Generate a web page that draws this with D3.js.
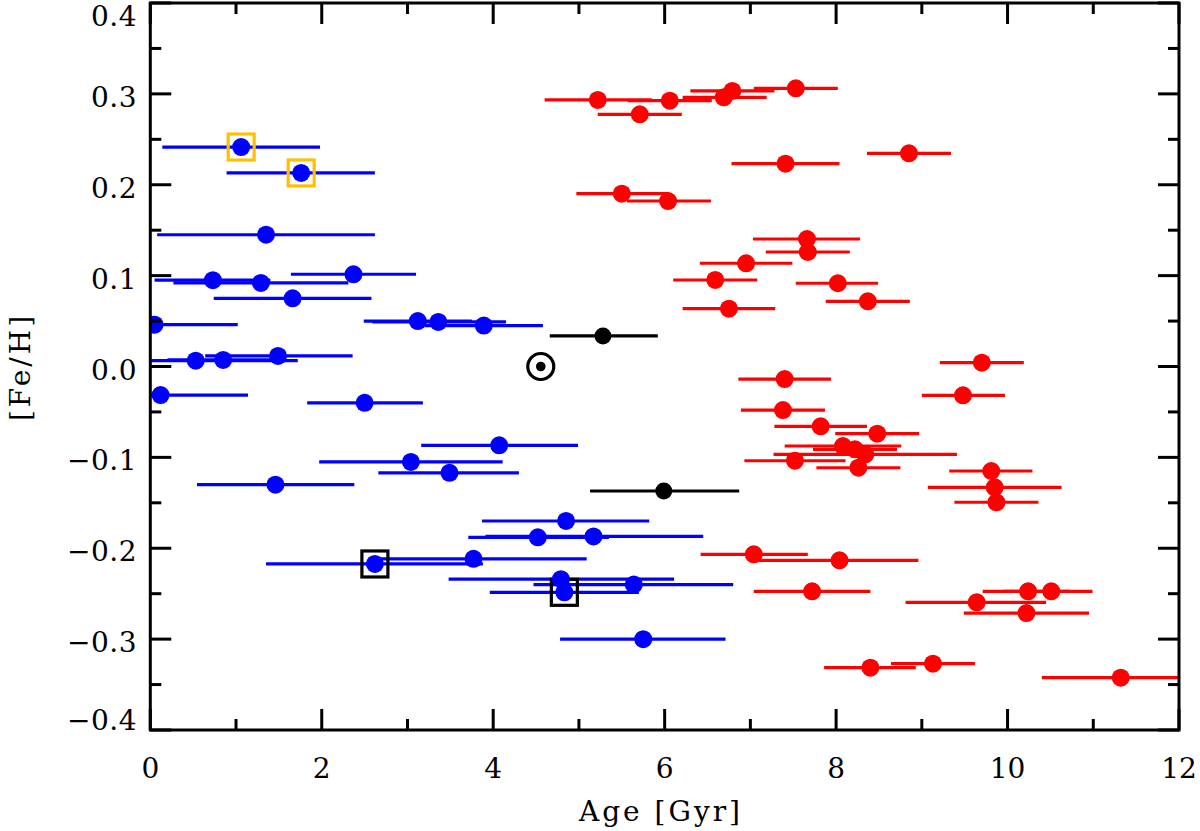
<!DOCTYPE html>
<html>
<head>
<meta charset="utf-8">
<script src="https://cdn.jsdelivr.net/npm/d3@7"></script>
<style>
  html, body { margin: 0; padding: 0; background: #fff; }
  svg { display: block; }
  text { font-family: "DejaVu Serif", "Liberation Serif", serif; fill: #000; }
</style>
</head>
<body>
<svg id="chart" width="1200" height="831"></svg>
<script>
// ---- data: [age, [Fe/H], age_low, age_high] ----
const blueStars = [
  [1.06, 0.2415, 0.14, 1.98],
  [1.76, 0.213, 0.89, 2.62],
  [1.35, 0.145, 0.08, 2.62],
  [2.37, 0.1015, 1.64, 3.10],
  [0.73, 0.095, 0.05, 1.40],
  [1.29, 0.092, 0.27, 2.31],
  [1.66, 0.075, 0.74, 2.58],
  [0.05, 0.046, 0.00, 1.02],
  [3.12, 0.050, 2.49, 3.75],
  [3.36, 0.049, 2.59, 4.15],
  [3.89, 0.045, 3.20, 4.58],
  [0.53, 0.0064, 0.00, 1.72],
  [0.85, 0.0072, 0.20, 1.50],
  [1.49, 0.0116, 0.64, 2.36],
  [0.12, -0.0314, 0.00, 1.14],
  [2.50, -0.040, 1.83, 3.18],
  [4.07, -0.0867, 3.16, 4.99],
  [3.04, -0.105, 1.97, 4.11],
  [3.49, -0.117, 2.66, 4.30],
  [1.46, -0.130, 0.545, 2.38],
  [4.85, -0.170, 3.87, 5.82],
  [4.52, -0.188, 3.71, 5.35],
  [5.17, -0.187, 3.91, 6.45],
  [3.77, -0.2116, 2.60, 5.09],
  [2.62, -0.2173, 1.35, 3.88],
  [4.79, -0.234, 3.48, 6.11],
  [5.64, -0.240, 4.47, 6.80],
  [4.83, -0.2485, 3.96, 5.70],
  [5.75, -0.300, 4.78, 6.71]
];
const redStars = [
  [5.22, 0.2933, 4.60, 5.85],
  [5.71, 0.2775, 5.22, 6.20],
  [6.06, 0.2925, 5.57, 6.55],
  [6.69, 0.2962, 6.21, 7.19],
  [6.79, 0.3032, 6.30, 7.28],
  [7.53, 0.3061, 7.04, 8.02],
  [7.41, 0.2232, 6.78, 8.04],
  [8.85, 0.2346, 8.36, 9.34],
  [5.50, 0.1902, 4.97, 6.05],
  [6.04, 0.1821, 5.56, 6.54],
  [7.66, 0.1403, 7.03, 8.28],
  [7.67, 0.126, 7.18, 8.16],
  [6.95, 0.1136, 6.41, 7.49],
  [6.59, 0.0952, 6.10, 7.08],
  [8.02, 0.0916, 7.53, 8.49],
  [8.37, 0.0717, 7.88, 8.86],
  [6.75, 0.0636, 6.21, 7.29],
  [9.70, 0.0042, 9.21, 10.19],
  [7.40, -0.0138, 6.86, 7.94],
  [9.48, -0.0317, 9.00, 9.97],
  [7.38, -0.0479, 6.89, 7.87],
  [7.82, -0.0658, 7.28, 8.36],
  [8.48, -0.0739, 7.99, 8.97],
  [8.08, -0.0875, 7.40, 8.76],
  [8.22, -0.0911, 7.73, 8.71],
  [8.34, -0.0967, 7.27, 9.41],
  [7.52, -0.1037, 6.93, 8.11],
  [8.26, -0.1114, 7.77, 8.75],
  [9.81, -0.115, 9.32, 10.29],
  [9.85, -0.133, 9.07, 10.63],
  [9.87, -0.1494, 9.38, 10.36],
  [7.04, -0.2067, 6.42, 7.67],
  [8.04, -0.2133, 7.10, 8.96],
  [7.72, -0.2474, 7.04, 8.40],
  [9.64, -0.2595, 8.81, 10.45],
  [10.24, -0.2474, 9.71, 10.72],
  [10.51, -0.2474, 9.95, 10.99],
  [10.22, -0.2713, 9.49, 10.95],
  [8.40, -0.3314, 7.86, 8.93],
  [9.13, -0.327, 8.64, 9.62],
  [11.32, -0.3424, 10.40, 12.40]
];
const blackStars = [
  [5.28, 0.0336, 4.66, 5.92],
  [5.99, -0.137, 5.13, 6.87]
];
const sunPoint = [4.555, 0.0];
const yellowSquares = [[1.06, 0.2415], [1.76, 0.213]];
const blackSquares = [[2.62, -0.2173], [4.83, -0.2485]];

const xMajorTicks = [0, 2, 4, 6, 8, 10, 12];
const xMinorTicks = [1, 3, 5, 7, 9, 11];
const yMajorTicks = [-0.4, -0.3, -0.2, -0.1, 0.0, 0.1, 0.2, 0.3, 0.4];
const yMinorTicks = [-0.35, -0.25, -0.15, -0.05, 0.05, 0.15, 0.25, 0.35];
const xTickLabels = ["0", "2", "4", "6", "8", "10", "12"];
const yTickLabels = ["\u22120.4", "\u22120.3", "\u22120.2", "\u22120.1", "0.0", "0.1", "0.2", "0.3", "0.4"];
const xTitle = "Age [Gyr]";
const yTitle = "[Fe/H]";

// ---- layout ----
const L = 150.3, R = 1179, T = 3, B = 730;
const svg = d3.select("#chart");
const x = d3.scaleLinear().domain([0, 12]).range([L, R]);
const y = d3.scaleLinear().domain([-0.4, 0.4]).range([B, T]);

svg.append("defs").append("clipPath").attr("id", "plotclip")
  .append("rect").attr("x", L).attr("y", T).attr("width", R - L).attr("height", B - T);

const plot = svg.append("g").attr("clip-path", "url(#plotclip)");

function drawBars(data, color) {
  plot.append("g").selectAll("line").data(data).join("line")
    .attr("x1", d => x(d[2])).attr("x2", d => x(d[3]))
    .attr("y1", d => y(d[1])).attr("y2", d => y(d[1]))
    .attr("stroke", color).attr("stroke-width", 3.2);
}
drawBars(blueStars, "#0000ff");
drawBars(redStars, "#ff0000");
drawBars(blackStars, "#000000");

function drawSquares(data, color) {
  const s = 26;
  plot.append("g").selectAll("rect").data(data).join("rect")
    .attr("x", d => x(d[0]) - s / 2).attr("y", d => y(d[1]) - s / 2)
    .attr("width", s).attr("height", s)
    .attr("fill", "none").attr("stroke", color).attr("stroke-width", 3.2);
}
drawSquares(yellowSquares, "#ffc000");
drawSquares(blackSquares, "#000000");

function drawDots(data, color, r) {
  plot.append("g").selectAll("circle").data(data).join("circle")
    .attr("cx", d => x(d[0])).attr("cy", d => y(d[1])).attr("r", r)
    .attr("fill", color);
}
drawDots(blueStars, "#0000ff", 9);
drawDots(redStars, "#ff0000", 9);
drawDots(blackStars, "#000000", 8.5);

// Sun symbol
const sunG = plot.append("g");
sunG.append("circle").attr("cx", x(sunPoint[0])).attr("cy", y(sunPoint[1])).attr("r", 13)
  .attr("fill", "none").attr("stroke", "#000").attr("stroke-width", 3.2);
sunG.append("circle").attr("cx", x(sunPoint[0])).attr("cy", y(sunPoint[1])).attr("r", 4.8)
  .attr("fill", "#000");

// ---- axes frame & ticks ----
const axG = svg.append("g").attr("stroke", "#000").attr("stroke-width", 3);
axG.append("rect").attr("x", L).attr("y", T).attr("width", R - L).attr("height", B - T)
  .attr("fill", "none");

const majLen = 21, minLen = 11;
xMajorTicks.forEach(v => {
  axG.append("line").attr("x1", x(v)).attr("x2", x(v)).attr("y1", B).attr("y2", B - majLen);
  axG.append("line").attr("x1", x(v)).attr("x2", x(v)).attr("y1", T).attr("y2", T + majLen);
});
xMinorTicks.forEach(v => {
  axG.append("line").attr("x1", x(v)).attr("x2", x(v)).attr("y1", B).attr("y2", B - minLen);
  axG.append("line").attr("x1", x(v)).attr("x2", x(v)).attr("y1", T).attr("y2", T + minLen);
});
yMajorTicks.forEach(v => {
  axG.append("line").attr("x1", L).attr("x2", L + majLen).attr("y1", y(v)).attr("y2", y(v));
  axG.append("line").attr("x1", R).attr("x2", R - majLen).attr("y1", y(v)).attr("y2", y(v));
});
yMinorTicks.forEach(v => {
  axG.append("line").attr("x1", L).attr("x2", L + minLen).attr("y1", y(v)).attr("y2", y(v));
  axG.append("line").attr("x1", R).attr("x2", R - minLen).attr("y1", y(v)).attr("y2", y(v));
});

// ---- tick labels ----
const fs = 28;
svg.append("g").selectAll("text").data(xMajorTicks).join("text")
  .attr("x", d => x(d)).attr("y", 778)
  .attr("text-anchor", "middle").attr("font-size", fs)
  .text((d, i) => xTickLabels[i]);

svg.append("g").selectAll("text").data(yMajorTicks).join("text")
  .attr("x", 137)
  .attr("y", d => Math.max(T + 13, Math.min(B - 10, y(d) + 3)))
  .attr("dy", "0.36em")
  .attr("text-anchor", "end").attr("font-size", fs)
  .attr("letter-spacing", 0.5)
  .text((d, i) => yTickLabels[i]);

// ---- titles ----
svg.append("text").attr("x", 661).attr("y", 821)
  .attr("text-anchor", "middle").attr("font-size", fs)
  .attr("letter-spacing", 3).text(xTitle);
svg.append("text").attr("transform", `translate(30, 367) rotate(-90)`)
  .attr("text-anchor", "middle").attr("font-size", fs)
  .attr("letter-spacing", 3).text(yTitle);
</script>
</body>
</html>
